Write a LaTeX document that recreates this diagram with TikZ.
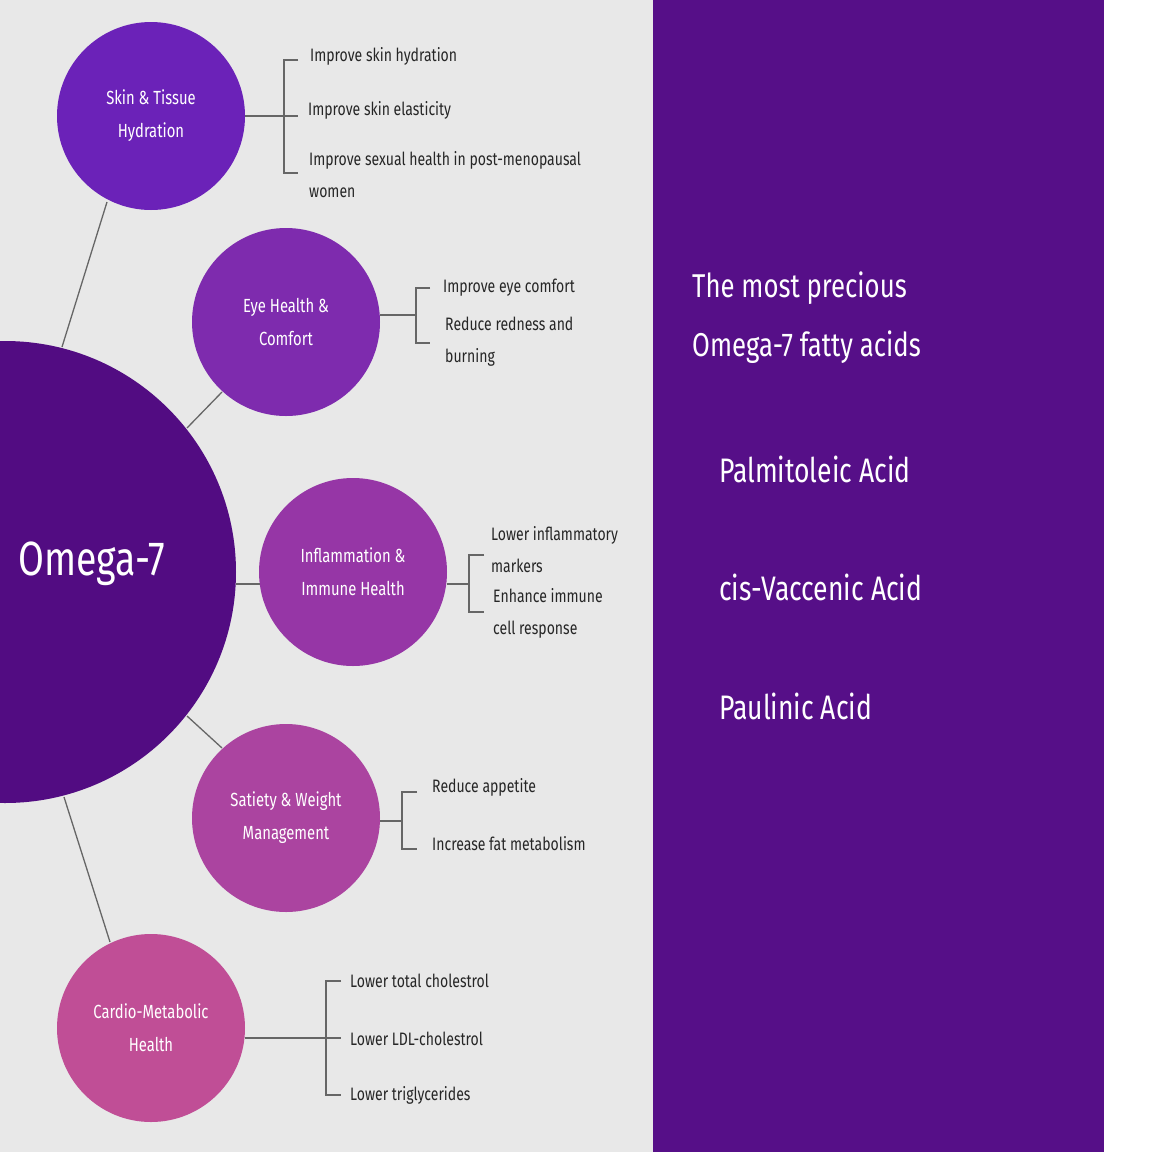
\documentclass[tikz,border=0pt]{standalone}
\usepackage{fontspec}
\setmainfont[FakeStretch=0.78]{Fira Sans}
\begin{document}
\begin{tikzpicture}[x=1pt,y=-1pt,
  conn/.style={draw=black!60,line width=1.3pt},
  br/.style={draw=black!60,line width=1.1pt},
  sm/.style={circle,minimum size=188pt,inner sep=0pt,text=white,align=center,font=\fontsize{19}{33}\selectfont},
  item/.style={anchor=west,inner sep=0pt,align=left,font=\fontsize{18}{32}\selectfont,text=black!85},
  acid/.style={anchor=west,inner sep=0pt,text=white,font=\fontsize{34}{40}\selectfont}]
\definecolor{bg}{HTML}{E8E8E8}
\definecolor{panel}{HTML}{560F88}
\definecolor{big}{HTML}{520C82}
\definecolor{c1}{HTML}{6B22B8}
\definecolor{c2}{HTML}{7E2BAE}
\definecolor{c3}{HTML}{9636A6}
\definecolor{c4}{HTML}{AB44A0}
\definecolor{c5}{HTML}{C04E96}
\useasboundingbox (0,0) rectangle (1152,1152);
\fill[bg] (0,0) rectangle (653,1152);
\fill[panel] (653,0) rectangle (1104,1152);
\begin{scope}
\clip (0,0) rectangle (653,1152);
\fill[big] (5,572) circle (231);
\end{scope}
\node[anchor=west,text=white,font=\fontsize{48}{50}\selectfont,inner sep=0pt] (om) at (18,564) {Omega-7};
\node[sm,fill=c1] (s1) at (151,116) {Skin \& Tissue\\Hydration};
\node[sm,fill=c2] (s2) at (286,322) {Eye Health \&\\Comfort};
\node[sm,fill=c3] (s3) at (353,572) {Inflammation \&\\Immune Health};
\node[sm,fill=c4] (s4) at (286,818) {Satiety \& Weight\\Management};
\node[sm,fill=c5] (s5) at (151,1028) {Cardio-Metabolic\\Health};
\coordinate (b1) at (62,347); \coordinate (b2) at (187,428); \coordinate (b3) at (236,584);
\coordinate (b4) at (187,716); \coordinate (b5) at (64,797);
\draw[conn] (b1) -- (107,202);
\draw[conn] (b2) -- (222,392);
\draw[conn] (b3) -- (260,584);
\draw[conn] (b4) -- (222,748);
\draw[conn] (b5) -- (110,942);
% brackets
\draw[br] (245,116) -- (284,116) (298,60) -- (284,60) -- (284,173) -- (298,173) (284,116) -- (298,116);
\node[item] (t11) at (310,56) {Improve skin hydration};
\node[item] (t12) at (308,110) {Improve skin elasticity};
\node[item,anchor=north west] (t13) at (309,151) {Improve sexual health in post-menopausal\\women};
\draw[br] (380,315) -- (416,315) (430,288) -- (416,288) -- (416,343) -- (430,343);
\node[item] (t21) at (443,288) {Improve eye comfort};
\node[item,anchor=north west] (t22) at (445,317) {Reduce redness and\\burning};
\draw[br] (447,584) -- (469,584) (484,555) -- (469,555) -- (469,612) -- (484,612);
\node[item,anchor=north west] (t31) at (491,526) {Lower inflammatory\\markers};
\node[item,anchor=north west] (t32) at (493,588) {Enhance immune\\cell response};
\draw[br] (380,821) -- (402,821) (417,792) -- (402,792) -- (402,849) -- (417,849);
\node[item] (t41) at (432,787) {Reduce appetite};
\node[item] (t42) at (432,844) {Increase fat metabolism};
\draw[br] (245,1038) -- (326,1038) (341,981) -- (326,981) -- (326,1095) -- (341,1095) (326,1038) -- (341,1038);
\node[item] (t51) at (350,981) {Lower total cholestrol};
\node[item] (t52) at (350,1039) {Lower LDL-cholestrol};
\node[item] (t53) at (350,1095) {Lower triglycerides};
% panel
\node[anchor=north west,inner sep=0pt,text=white,align=left,font=\fontsize{33}{59}\selectfont] (hd) at (692,272) {The most precious\\Omega-7 fatty acids};
\node[acid] (a1) at (719,469) {Palmitoleic Acid};
\node[acid] (a2) at (719,587) {cis-Vaccenic Acid};
\node[acid] (a3) at (719,706) {Paulinic Acid};
\end{tikzpicture}
\end{document}
